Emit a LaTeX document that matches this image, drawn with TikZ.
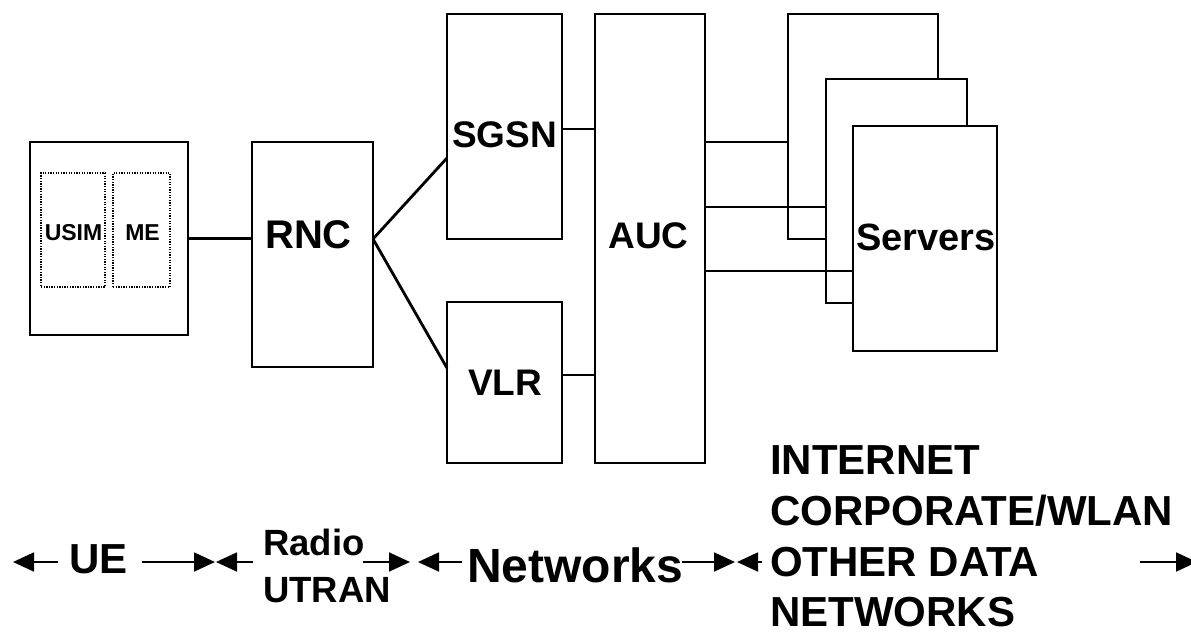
\documentclass[tikz,border=0pt]{standalone}
\usepackage{fontspec}
\setmainfont{Liberation Sans}
\usetikzlibrary{arrows.meta}
\tikzset{
  box/.style={draw, line width=1.6pt, fill=white, inner sep=0pt, outer sep=0pt, rectangle},
  dotbox/.style={draw, line width=1.3pt, dash pattern=on 1.3pt off 1.3pt, inner sep=0pt, outer sep=0pt, rectangle},
  lbl/.style={inner sep=0pt, anchor=base, font=\bfseries\fontsize{#1}{#1}\selectfont},
  lblw/.style={inner sep=0pt, anchor=base west, font=\bfseries\fontsize{#1}{#1}\selectfont},
  conn/.style={line width=1.6pt},
  thickconn/.style={line width=2.8pt},
  span/.style={line width=1.8pt, -{Triangle[length=21pt,width=19pt]}},
}
\begin{document}
\begin{tikzpicture}[x=1pt,y=-1pt]
\useasboundingbox (0,0) rectangle (1191,632);
% UE
\node[box, minimum width=158pt, minimum height=193pt] (ue) at (109,238.5) {};
\node[dotbox, minimum width=64pt, minimum height=114pt] (usim) at (73,230) {};
\node[dotbox, minimum width=57pt, minimum height=114pt] (me) at (141.5,230) {};
\node[lbl=23] (usimt) at (73.5,240) {USIM};
\node[lbl=23] (met) at (142.5,240) {ME};
% RNC
\node[box, minimum width=121pt, minimum height=225pt] (rnc) at (312.5,254.5) {};
\node[lbl=40] (rnct) at (308.5,248) {RNC};
% SGSN, VLR
\node[box, minimum width=115pt, minimum height=225pt] (sgsn) at (504.5,126.5) {};
\node[lbl=37] (sgsnt) at (504.5,147) {SGSN};
\node[box, minimum width=115pt, minimum height=161pt] (vlr) at (504.5,382.5) {};
\node[lbl=37] (vlrt) at (505,395) {VLR};
% AUC
\node[box, minimum width=110pt, minimum height=449pt] (auc) at (650,238.5) {};
\node[lbl=37] (auct) at (648.5,248) {AUC};
% Servers
\node[box, minimum width=150pt, minimum height=225pt] (srv1) at (863,126.5) {};
\node[box, minimum width=141pt, minimum height=224pt] (srv2) at (896.5,191) {};
\node[box, minimum width=144pt, minimum height=225pt] (srv3) at (925,238.5) {};
\node[lbl=38] (srvt) at (926,250) {Servers};
% connectors
\coordinate (fork) at (373,239);
\coordinate (fs) at (447,158);
\coordinate (fv) at (447,368);
\coordinate (y129) at (0,129);
\coordinate (y375) at (0,375);
\coordinate (y142) at (0,142);
\coordinate (y207) at (0,207);
\coordinate (y271) at (0,271);
\draw[thickconn] (ue.east) -- (ue.east -| rnc.west);
\draw[thickconn] (fork) -- (fs);
\draw[thickconn] (fork) -- (fv);
\draw[conn] (sgsn.east |- y129) -- (auc.west |- y129);
\draw[conn] (vlr.east |- y375) -- (auc.west |- y375);
\draw[conn] (auc.east |- y142) -- (srv1.west |- y142);
\draw[conn] (auc.east |- y207) -- (srv2.west |- y207);
\draw[conn] (auc.east |- y271) -- (srv3.west |- y271);
% bottom labels
\node[lbl=42] (uet) at (98.5,573) {UE};
\node[lblw=36.5] (radiot) at (263,555) {Radio};
\node[lblw=36.5] (utrant) at (263,602) {UTRAN};
\node[lblw=48] (netst) at (467,582) {Networks};
\node[lblw=42] (inet1) at (770,474) {INTERNET};
\node[lblw=42] (inet2) at (770,525) {CORPORATE/WLAN};
\node[lblw=42] (inet3) at (770,576) {OTHER DATA};
\node[lblw=42] (inet4) at (770,626) {NETWORKS};
% spans
\coordinate (a1s) at (58,562);  \coordinate (a1e) at (13,562);
\coordinate (a2s) at (142,562); \coordinate (a2e) at (215,562);
\coordinate (a3s) at (253,562); \coordinate (a3e) at (216,562);
\coordinate (a4s) at (363,562); \coordinate (a4e) at (410,562);
\coordinate (a5s) at (462,562); \coordinate (a5e) at (418,562);
\coordinate (a6s) at (682,562); \coordinate (a6e) at (735,562);
\coordinate (a7s) at (762,562); \coordinate (a7e) at (737,562);
\coordinate (a8s) at (1140,562); \coordinate (a8e) at (1197,562);
\draw[span] (a1s) -- (a1e);
\draw[span] (a2s) -- (a2e);
\draw[span] (a3s) -- (a3e);
\draw[span] (a4s) -- (a4e);
\draw[span] (a5s) -- (a5e);
\draw[span] (a6s) -- (a6e);
\draw[span] (a7s) -- (a7e);
\draw[span] (a8s) -- (a8e);
\end{tikzpicture}
\end{document}
